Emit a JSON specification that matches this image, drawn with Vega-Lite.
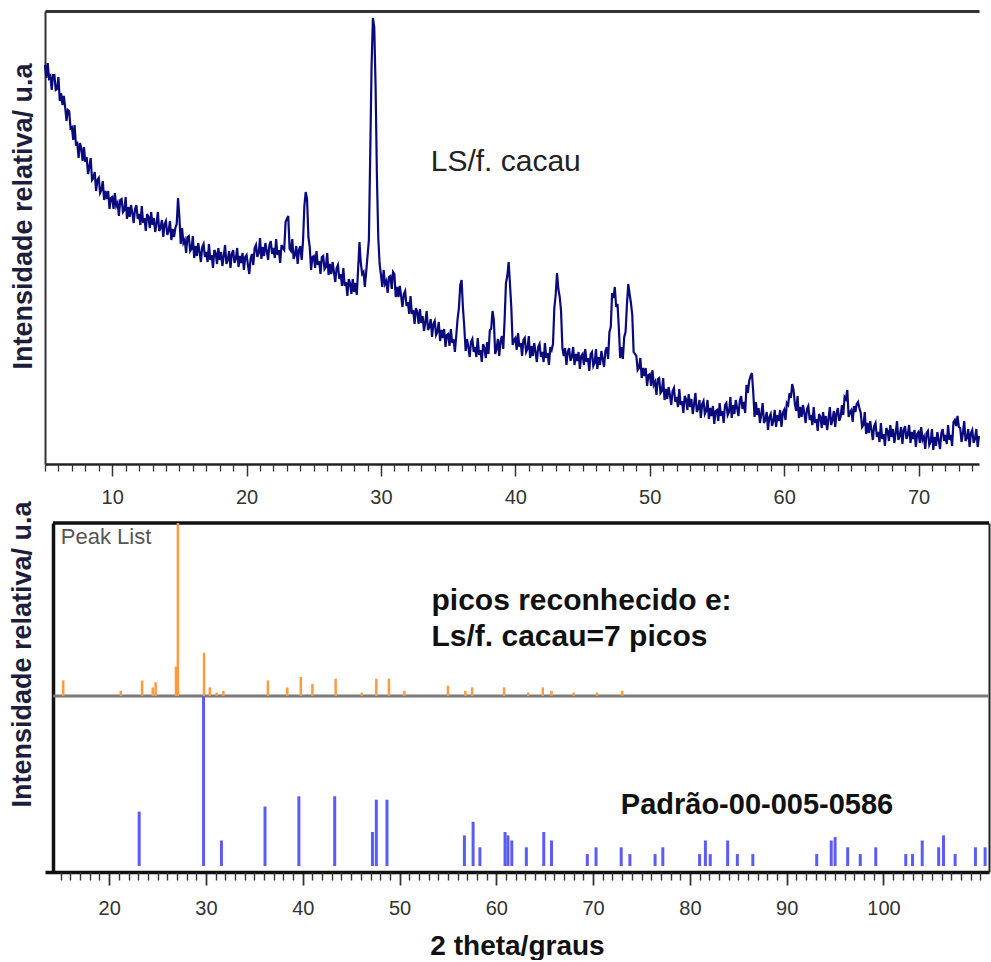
{
  "$schema": "https://vega.github.io/schema/vega-lite/v6.json",
  "autosize": {"type": "pad"},
  "padding": {"left": 7, "top": 11, "right": 0, "bottom": 0},
  "background": "white",
  "spacing": 59,
  "bounds": "flush",
  "config": {"view": {"stroke": null}, "font": "Liberation Sans"},
  "datasets": {
    "trace": [
      {"t":5.0,"i":399},{"t":5.1,"i":386},{"t":5.2,"i":401},{"t":5.3,"i":386},{"t":5.4,"i":388},{"t":5.5,"i":374},{"t":5.6,"i":389},{"t":5.7,"i":389},{"t":5.8,"i":374},{"t":5.9,"i":375},
      {"t":6.0,"i":387},{"t":6.1,"i":363},{"t":6.2,"i":371},{"t":6.3,"i":359},{"t":6.4,"i":368},{"t":6.5,"i":357},{"t":6.6,"i":343},{"t":6.7,"i":354},{"t":6.8,"i":353},{"t":6.9,"i":336},
      {"t":7.0,"i":337},{"t":7.1,"i":324},{"t":7.2,"i":339},{"t":7.3,"i":320},{"t":7.4,"i":321},{"t":7.5,"i":306},{"t":7.6,"i":321},{"t":7.7,"i":316},{"t":7.8,"i":303},{"t":7.9,"i":317},
      {"t":8.0,"i":302},{"t":8.1,"i":307},{"t":8.2,"i":290},{"t":8.3,"i":297},{"t":8.4,"i":306},{"t":8.5,"i":284},{"t":8.6,"i":286},{"t":8.7,"i":292},{"t":8.8,"i":273},{"t":8.9,"i":284},
      {"t":9.0,"i":286},{"t":9.1,"i":271},{"t":9.2,"i":274},{"t":9.3,"i":283},{"t":9.4,"i":264},{"t":9.5,"i":273},{"t":9.6,"i":265},{"t":9.7,"i":273},{"t":9.8,"i":255},{"t":9.9,"i":266},
      {"t":10.0,"i":267},{"t":10.1,"i":255},{"t":10.2,"i":271},{"t":10.3,"i":258},{"t":10.4,"i":261},{"t":10.5,"i":248},{"t":10.6,"i":264},{"t":10.7,"i":265},{"t":10.8,"i":252},{"t":10.9,"i":254},
      {"t":11.0,"i":267},{"t":11.1,"i":245},{"t":11.2,"i":257},{"t":11.3,"i":247},{"t":11.4,"i":259},{"t":11.5,"i":251},{"t":11.6,"i":241},{"t":11.7,"i":255},{"t":11.8,"i":259},{"t":11.9,"i":245},
      {"t":12.0,"i":250},{"t":12.1,"i":239},{"t":12.2,"i":258},{"t":12.3,"i":241},{"t":12.4,"i":246},{"t":12.5,"i":233},{"t":12.6,"i":250},{"t":12.7,"i":247},{"t":12.8,"i":236},{"t":12.9,"i":252},
      {"t":13.0,"i":239},{"t":13.1,"i":246},{"t":13.2,"i":232},{"t":13.3,"i":241},{"t":13.4,"i":252},{"t":13.5,"i":233},{"t":13.6,"i":236},{"t":13.7,"i":244},{"t":13.8,"i":227},{"t":13.9,"i":240},
      {"t":14.0,"i":243},{"t":14.1,"i":229},{"t":14.2,"i":233},{"t":14.3,"i":243},{"t":14.4,"i":224},{"t":14.5,"i":235},{"t":14.6,"i":227},{"t":14.7,"i":236},{"t":14.8,"i":240},{"t":14.9,"i":266},
      {"t":15.0,"i":247},{"t":15.1,"i":220},{"t":15.2,"i":236},{"t":15.3,"i":221},{"t":15.4,"i":224},{"t":15.5,"i":211},{"t":15.6,"i":227},{"t":15.7,"i":228},{"t":15.8,"i":213},{"t":15.9,"i":215},
      {"t":16.0,"i":228},{"t":16.1,"i":206},{"t":16.2,"i":218},{"t":16.3,"i":208},{"t":16.4,"i":221},{"t":16.5,"i":212},{"t":16.6,"i":202},{"t":16.7,"i":217},{"t":16.8,"i":220},{"t":16.9,"i":207},
      {"t":17.0,"i":212},{"t":17.1,"i":202},{"t":17.2,"i":220},{"t":17.3,"i":204},{"t":17.4,"i":209},{"t":17.5,"i":196},{"t":17.6,"i":214},{"t":17.7,"i":211},{"t":17.8,"i":200},{"t":17.9,"i":216},
      {"t":18.0,"i":204},{"t":18.1,"i":212},{"t":18.2,"i":198},{"t":18.3,"i":208},{"t":18.4,"i":219},{"t":18.5,"i":200},{"t":18.6,"i":204},{"t":18.7,"i":213},{"t":18.8,"i":196},{"t":18.9,"i":210},
      {"t":19.0,"i":214},{"t":19.1,"i":201},{"t":19.2,"i":205},{"t":19.3,"i":216},{"t":19.4,"i":197},{"t":19.5,"i":208},{"t":19.6,"i":201},{"t":19.7,"i":211},{"t":19.8,"i":194},{"t":19.9,"i":207},
      {"t":20.0,"i":209},{"t":20.1,"i":199},{"t":20.2,"i":190},{"t":20.3,"i":205},{"t":20.4,"i":210},{"t":20.5,"i":199},{"t":20.6,"i":216},{"t":20.7,"i":219},{"t":20.8,"i":207},{"t":20.9,"i":211},
      {"t":21.0,"i":226},{"t":21.1,"i":205},{"t":21.2,"i":217},{"t":21.3,"i":208},{"t":21.4,"i":221},{"t":21.5,"i":213},{"t":21.6,"i":204},{"t":21.7,"i":219},{"t":21.8,"i":223},{"t":21.9,"i":210},
      {"t":22.0,"i":216},{"t":22.1,"i":206},{"t":22.2,"i":225},{"t":22.3,"i":209},{"t":22.4,"i":214},{"t":22.5,"i":201},{"t":22.6,"i":219},{"t":22.7,"i":216},{"t":22.8,"i":214},{"t":22.9,"i":242},
      {"t":23.0,"i":245},{"t":23.1,"i":248},{"t":23.2,"i":215},{"t":23.3,"i":213},{"t":23.4,"i":225},{"t":23.5,"i":205},{"t":23.6,"i":209},{"t":23.7,"i":218},{"t":23.8,"i":200},{"t":23.9,"i":214},
      {"t":24.0,"i":218},{"t":24.1,"i":204},{"t":24.2,"i":223},{"t":24.3,"i":258},{"t":24.4,"i":272},{"t":24.5,"i":265},{"t":24.6,"i":227},{"t":24.7,"i":217},{"t":24.8,"i":194},{"t":24.9,"i":207},
      {"t":25.0,"i":208},{"t":25.1,"i":196},{"t":25.2,"i":213},{"t":25.3,"i":199},{"t":25.4,"i":203},{"t":25.5,"i":190},{"t":25.6,"i":207},{"t":25.7,"i":208},{"t":25.8,"i":195},{"t":25.9,"i":197},
      {"t":26.0,"i":211},{"t":26.1,"i":189},{"t":26.2,"i":200},{"t":26.3,"i":190},{"t":26.4,"i":202},{"t":26.5,"i":192},{"t":26.6,"i":182},{"t":26.7,"i":196},{"t":26.8,"i":199},{"t":26.9,"i":185},
      {"t":27.0,"i":190},{"t":27.1,"i":178},{"t":27.2,"i":196},{"t":27.3,"i":178},{"t":27.4,"i":182},{"t":27.5,"i":168},{"t":27.6,"i":185},{"t":27.7,"i":181},{"t":27.8,"i":170},{"t":27.9,"i":185},
      {"t":28.0,"i":172},{"t":28.1,"i":181},{"t":28.2,"i":169},{"t":28.3,"i":195},{"t":28.4,"i":222},{"t":28.5,"i":201},{"t":28.6,"i":190},{"t":28.7,"i":192},{"t":28.8,"i":177},{"t":28.9,"i":192},
      {"t":29.0,"i":208},{"t":29.1,"i":224},{"t":29.2,"i":309},{"t":29.3,"i":398},{"t":29.4,"i":446},{"t":29.5,"i":437},{"t":29.6,"i":377},{"t":29.7,"i":286},{"t":29.8,"i":226},{"t":29.9,"i":200},
      {"t":30.0,"i":189},{"t":30.1,"i":177},{"t":30.2,"i":194},{"t":30.3,"i":180},{"t":30.4,"i":183},{"t":30.5,"i":171},{"t":30.6,"i":187},{"t":30.7,"i":188},{"t":30.8,"i":175},{"t":30.9,"i":192},
      {"t":31.0,"i":190},{"t":31.1,"i":167},{"t":31.2,"i":177},{"t":31.3,"i":167},{"t":31.4,"i":178},{"t":31.5,"i":168},{"t":31.6,"i":157},{"t":31.7,"i":170},{"t":31.8,"i":173},{"t":31.9,"i":158},
      {"t":32.0,"i":162},{"t":32.1,"i":150},{"t":32.2,"i":168},{"t":32.3,"i":150},{"t":32.4,"i":154},{"t":32.5,"i":140},{"t":32.6,"i":156},{"t":32.7,"i":152},{"t":32.8,"i":140},{"t":32.9,"i":155},
      {"t":33.0,"i":141},{"t":33.1,"i":148},{"t":33.2,"i":133},{"t":33.3,"i":142},{"t":33.4,"i":153},{"t":33.5,"i":134},{"t":33.6,"i":137},{"t":33.7,"i":145},{"t":33.8,"i":127},{"t":33.9,"i":140},
      {"t":34.0,"i":143},{"t":34.1,"i":129},{"t":34.2,"i":132},{"t":34.3,"i":142},{"t":34.4,"i":123},{"t":34.5,"i":134},{"t":34.6,"i":126},{"t":34.7,"i":135},{"t":34.8,"i":117},{"t":34.9,"i":129},
      {"t":35.0,"i":130},{"t":35.1,"i":118},{"t":35.2,"i":135},{"t":35.3,"i":121},{"t":35.4,"i":125},{"t":35.5,"i":112},{"t":35.6,"i":128},{"t":35.7,"i":145},{"t":35.8,"i":156},{"t":35.9,"i":179},
      {"t":36.0,"i":184},{"t":36.1,"i":156},{"t":36.2,"i":137},{"t":36.3,"i":113},{"t":36.4,"i":125},{"t":36.5,"i":117},{"t":36.6,"i":107},{"t":36.7,"i":122},{"t":36.8,"i":125},{"t":36.9,"i":112},
      {"t":37.0,"i":117},{"t":37.1,"i":107},{"t":37.2,"i":126},{"t":37.3,"i":109},{"t":37.4,"i":114},{"t":37.5,"i":102},{"t":37.6,"i":120},{"t":37.7,"i":116},{"t":37.8,"i":106},{"t":37.9,"i":122},
      {"t":38.0,"i":110},{"t":38.1,"i":134},{"t":38.2,"i":135},{"t":38.3,"i":153},{"t":38.4,"i":144},{"t":38.5,"i":110},{"t":38.6,"i":115},{"t":38.7,"i":125},{"t":38.8,"i":108},{"t":38.9,"i":123},
      {"t":39.0,"i":128},{"t":39.1,"i":115},{"t":39.2,"i":144},{"t":39.3,"i":181},{"t":39.4,"i":188},{"t":39.5,"i":202},{"t":39.6,"i":180},{"t":39.7,"i":156},{"t":39.8,"i":119},{"t":39.9,"i":124},
      {"t":40.0,"i":126},{"t":40.1,"i":114},{"t":40.2,"i":131},{"t":40.3,"i":117},{"t":40.4,"i":121},{"t":40.5,"i":108},{"t":40.6,"i":124},{"t":40.7,"i":126},{"t":40.8,"i":112},{"t":40.9,"i":115},
      {"t":41.0,"i":128},{"t":41.1,"i":106},{"t":41.2,"i":118},{"t":41.3,"i":108},{"t":41.4,"i":121},{"t":41.5,"i":112},{"t":41.6,"i":102},{"t":41.7,"i":117},{"t":41.8,"i":120},{"t":41.9,"i":107},
      {"t":42.0,"i":112},{"t":42.1,"i":102},{"t":42.2,"i":121},{"t":42.3,"i":106},{"t":42.4,"i":111},{"t":42.5,"i":99},{"t":42.6,"i":117},{"t":42.7,"i":114},{"t":42.8,"i":120},{"t":42.9,"i":156},
      {"t":43.0,"i":169},{"t":43.1,"i":191},{"t":43.2,"i":175},{"t":43.3,"i":167},{"t":43.4,"i":153},{"t":43.5,"i":116},{"t":43.6,"i":108},{"t":43.7,"i":116},{"t":43.8,"i":99},{"t":43.9,"i":112},
      {"t":44.0,"i":116},{"t":44.1,"i":103},{"t":44.2,"i":107},{"t":44.3,"i":117},{"t":44.4,"i":99},{"t":44.5,"i":110},{"t":44.6,"i":103},{"t":44.7,"i":112},{"t":44.8,"i":95},{"t":44.9,"i":108},
      {"t":45.0,"i":110},{"t":45.1,"i":99},{"t":45.2,"i":115},{"t":45.3,"i":102},{"t":45.4,"i":106},{"t":45.5,"i":93},{"t":45.6,"i":110},{"t":45.7,"i":112},{"t":45.8,"i":98},{"t":45.9,"i":101},
      {"t":46.0,"i":115},{"t":46.1,"i":95},{"t":46.2,"i":107},{"t":46.3,"i":99},{"t":46.4,"i":113},{"t":46.5,"i":105},{"t":46.6,"i":97},{"t":46.7,"i":113},{"t":46.8,"i":117},{"t":46.9,"i":105},
      {"t":47.0,"i":132},{"t":47.1,"i":137},{"t":47.2,"i":171},{"t":47.3,"i":166},{"t":47.4,"i":177},{"t":47.5,"i":157},{"t":47.6,"i":160},{"t":47.7,"i":136},{"t":47.8,"i":106},{"t":47.9,"i":117},
      {"t":48.0,"i":105},{"t":48.1,"i":127},{"t":48.2,"i":132},{"t":48.3,"i":159},{"t":48.4,"i":180},{"t":48.5,"i":170},{"t":48.6,"i":161},{"t":48.7,"i":149},{"t":48.8,"i":112},{"t":48.9,"i":110},
      {"t":49.0,"i":108},{"t":49.1,"i":94},{"t":49.2,"i":96},{"t":49.3,"i":106},{"t":49.4,"i":86},{"t":49.5,"i":96},{"t":49.6,"i":88},{"t":49.7,"i":96},{"t":49.8,"i":78},{"t":49.9,"i":89},
      {"t":50.0,"i":90},{"t":50.1,"i":78},{"t":50.2,"i":94},{"t":50.3,"i":79},{"t":50.4,"i":82},{"t":50.5,"i":69},{"t":50.6,"i":85},{"t":50.7,"i":86},{"t":50.8,"i":71},{"t":50.9,"i":73},
      {"t":51.0,"i":86},{"t":51.1,"i":64},{"t":51.2,"i":75},{"t":51.3,"i":65},{"t":51.4,"i":77},{"t":51.5,"i":69},{"t":51.6,"i":59},{"t":51.7,"i":73},{"t":51.8,"i":76},{"t":51.9,"i":62},
      {"t":52.0,"i":67},{"t":52.1,"i":57},{"t":52.2,"i":75},{"t":52.3,"i":59},{"t":52.4,"i":63},{"t":52.5,"i":51},{"t":52.6,"i":68},{"t":52.7,"i":65},{"t":52.8,"i":54},{"t":52.9,"i":70},
      {"t":53.0,"i":57},{"t":53.1,"i":65},{"t":53.2,"i":50},{"t":53.3,"i":60},{"t":53.4,"i":71},{"t":53.5,"i":52},{"t":53.6,"i":55},{"t":53.7,"i":64},{"t":53.8,"i":46},{"t":53.9,"i":60},
      {"t":54.0,"i":63},{"t":54.1,"i":50},{"t":54.2,"i":53},{"t":54.3,"i":64},{"t":54.4,"i":45},{"t":54.5,"i":56},{"t":54.6,"i":48},{"t":54.7,"i":58},{"t":54.8,"i":40},{"t":54.9,"i":53},
      {"t":55.0,"i":54},{"t":55.1,"i":43},{"t":55.2,"i":61},{"t":55.3,"i":48},{"t":55.4,"i":53},{"t":55.5,"i":41},{"t":55.6,"i":59},{"t":55.7,"i":61},{"t":55.8,"i":49},{"t":55.9,"i":52},
      {"t":56.0,"i":67},{"t":56.1,"i":46},{"t":56.2,"i":59},{"t":56.3,"i":50},{"t":56.4,"i":64},{"t":56.5,"i":56},{"t":56.6,"i":48},{"t":56.7,"i":63},{"t":56.8,"i":68},{"t":56.9,"i":55},
      {"t":57.0,"i":62},{"t":57.1,"i":51},{"t":57.2,"i":79},{"t":57.3,"i":71},{"t":57.4,"i":83},{"t":57.5,"i":88},{"t":57.6,"i":91},{"t":57.7,"i":72},{"t":57.8,"i":47},{"t":57.9,"i":62},
      {"t":58.0,"i":49},{"t":58.1,"i":56},{"t":58.2,"i":41},{"t":58.3,"i":50},{"t":58.4,"i":61},{"t":58.5,"i":41},{"t":58.6,"i":44},{"t":58.7,"i":52},{"t":58.8,"i":34},{"t":58.9,"i":47},
      {"t":59.0,"i":50},{"t":59.1,"i":38},{"t":59.2,"i":43},{"t":59.3,"i":54},{"t":59.4,"i":37},{"t":59.5,"i":49},{"t":59.6,"i":43},{"t":59.7,"i":54},{"t":59.8,"i":37},{"t":59.9,"i":51},
      {"t":60.0,"i":54},{"t":60.1,"i":44},{"t":60.2,"i":61},{"t":60.3,"i":59},{"t":60.4,"i":71},{"t":60.5,"i":66},{"t":60.6,"i":80},{"t":60.7,"i":74},{"t":60.8,"i":60},{"t":60.9,"i":53},
      {"t":61.0,"i":68},{"t":61.1,"i":46},{"t":61.2,"i":57},{"t":61.3,"i":47},{"t":61.4,"i":59},{"t":61.5,"i":51},{"t":61.6,"i":41},{"t":61.7,"i":55},{"t":61.8,"i":58},{"t":61.9,"i":44},
      {"t":62.0,"i":49},{"t":62.1,"i":39},{"t":62.2,"i":57},{"t":62.3,"i":41},{"t":62.4,"i":45},{"t":62.5,"i":33},{"t":62.6,"i":50},{"t":62.7,"i":47},{"t":62.8,"i":36},{"t":62.9,"i":52},
      {"t":63.0,"i":39},{"t":63.1,"i":48},{"t":63.2,"i":34},{"t":63.3,"i":45},{"t":63.4,"i":57},{"t":63.5,"i":39},{"t":63.6,"i":44},{"t":63.7,"i":53},{"t":63.8,"i":37},{"t":63.9,"i":51},
      {"t":64.0,"i":56},{"t":64.1,"i":43},{"t":64.2,"i":47},{"t":64.3,"i":59},{"t":64.4,"i":49},{"t":64.5,"i":67},{"t":64.6,"i":65},{"t":64.7,"i":74},{"t":64.8,"i":47},{"t":64.9,"i":52},
      {"t":65.0,"i":54},{"t":65.1,"i":42},{"t":65.2,"i":58},{"t":65.3,"i":52},{"t":65.4,"i":60},{"t":65.5,"i":62},{"t":65.6,"i":56},{"t":65.7,"i":51},{"t":65.8,"i":37},{"t":65.9,"i":39},
      {"t":66.0,"i":52},{"t":66.1,"i":30},{"t":66.2,"i":41},{"t":66.3,"i":31},{"t":66.4,"i":43},{"t":66.5,"i":34},{"t":66.6,"i":24},{"t":66.7,"i":38},{"t":66.8,"i":41},{"t":66.9,"i":27},
      {"t":67.0,"i":32},{"t":67.1,"i":22},{"t":67.2,"i":41},{"t":67.3,"i":25},{"t":67.4,"i":30},{"t":67.5,"i":18},{"t":67.6,"i":36},{"t":67.7,"i":33},{"t":67.8,"i":23},{"t":67.9,"i":39},
      {"t":68.0,"i":27},{"t":68.1,"i":35},{"t":68.2,"i":21},{"t":68.3,"i":31},{"t":68.4,"i":43},{"t":68.5,"i":24},{"t":68.6,"i":28},{"t":68.7,"i":37},{"t":68.8,"i":20},{"t":68.9,"i":34},
      {"t":69.0,"i":38},{"t":69.1,"i":25},{"t":69.2,"i":29},{"t":69.3,"i":39},{"t":69.4,"i":21},{"t":69.5,"i":32},{"t":69.6,"i":25},{"t":69.7,"i":34},{"t":69.8,"i":17},{"t":69.9,"i":30},
      {"t":70.0,"i":32},{"t":70.1,"i":21},{"t":70.2,"i":37},{"t":70.3,"i":24},{"t":70.4,"i":27},{"t":70.5,"i":15},{"t":70.6,"i":31},{"t":70.7,"i":33},{"t":70.8,"i":19},{"t":70.9,"i":22},
      {"t":71.0,"i":35},{"t":71.1,"i":14},{"t":71.2,"i":27},{"t":71.3,"i":18},{"t":71.4,"i":32},{"t":71.5,"i":24},{"t":71.6,"i":15},{"t":71.7,"i":31},{"t":71.8,"i":35},{"t":71.9,"i":23},
      {"t":72.0,"i":29},{"t":72.1,"i":20},{"t":72.2,"i":39},{"t":72.3,"i":24},{"t":72.4,"i":29},{"t":72.5,"i":18},{"t":72.6,"i":42},{"t":72.7,"i":44},{"t":72.8,"i":38},{"t":72.9,"i":48},
      {"t":73.0,"i":37},{"t":73.1,"i":36},{"t":73.2,"i":22},{"t":73.3,"i":31},{"t":73.4,"i":43},{"t":73.5,"i":23},{"t":73.6,"i":26},{"t":73.7,"i":35},{"t":73.8,"i":17},{"t":73.9,"i":31},
      {"t":74.0,"i":34},{"t":74.1,"i":21},{"t":74.2,"i":25},{"t":74.3,"i":35},{"t":74.4,"i":17},{"t":74.5,"i":28}
    ],
    "orange": [
      {"t":15.25,"h":9},{"t":21.2,"h":3},{"t":23.4,"h":9},{"t":24.5,"h":5},{"t":24.8,"h":8},{"t":26.9,"h":17},{"t":27.1,"h":100},{"t":29.8,"h":25},{"t":30.4,"h":5},{"t":31.1,"h":2},
      {"t":31.8,"h":3},{"t":36.4,"h":9},{"t":38.4,"h":5},{"t":39.8,"h":11},{"t":41.0,"h":7},{"t":43.4,"h":10},{"t":46.1,"h":2},{"t":47.6,"h":10},{"t":48.9,"h":10},{"t":50.5,"h":3},
      {"t":55.0,"h":6},{"t":56.8,"h":3},{"t":57.5,"h":5},{"t":60.8,"h":5},{"t":63.3,"h":2},{"t":64.8,"h":5},{"t":65.7,"h":3},{"t":68.0,"h":2},{"t":70.4,"h":2},{"t":73.0,"h":3}
    ],
    "blue": [
      {"t":23.1,"h":32},{"t":29.75,"h":100},{"t":31.6,"h":15},{"t":36.1,"h":35},{"t":39.6,"h":41},{"t":43.3,"h":41},{"t":47.2,"h":20},{"t":47.6,"h":39},{"t":48.7,"h":39},
      {"t":56.7,"h":18},{"t":57.6,"h":26},{"t":58.3,"h":11},{"t":60.9,"h":20},{"t":61.2,"h":18},{"t":61.6,"h":15},{"t":63.1,"h":11},{"t":64.9,"h":20},{"t":65.7,"h":15},
      {"t":69.4,"h":7},{"t":70.3,"h":11},{"t":72.9,"h":11},{"t":73.8,"h":7},{"t":76.4,"h":7},{"t":77.2,"h":11},{"t":81.0,"h":7},{"t":81.6,"h":15},{"t":82.1,"h":7},
      {"t":83.9,"h":15},{"t":84.9,"h":7},{"t":86.5,"h":7},{"t":93.1,"h":7},{"t":94.6,"h":15},{"t":95.0,"h":17},{"t":96.3,"h":11},{"t":97.6,"h":7},{"t":99.2,"h":11},
      {"t":102.3,"h":7},{"t":103.0,"h":7},{"t":104.0,"h":15},{"t":105.7,"h":11},{"t":106.2,"h":18},{"t":107.4,"h":7},{"t":109.5,"h":11},{"t":110.5,"h":11}
    ]
  },
  "vconcat": [
    {
      "width": 934,
      "height": 453,
      "layer": [
        {
          "data": {"name": "trace"},
          "mark": {"type": "line", "color": "#0a0a7c", "strokeWidth": 2.2, "strokeJoin": "miter"},
          "encoding": {
            "x": {"field": "t", "type": "quantitative", "scale": {"domain": [5, 74.5], "nice": false, "zero": false},
              "axis": {"orient": "bottom", "values": [10,20,30,40,50,60,70], "tickSize": 12, "tickWidth": 1.5, "tickColor": "#333", "domainWidth": 2.5, "domainColor": "#222", "labelFontSize": 20, "labelColor": "#333", "labelPadding": 11, "labelFont": "Liberation Sans", "title": null, "grid": false}},
            "y": {"field": "i", "type": "quantitative", "scale": {"domain": [0, 453], "nice": false, "zero": false},
              "axis": {"orient": "left", "ticks": false, "labels": false, "domainWidth": 2, "domainColor": "#333", "grid": false, "title": "Intensidade relativa/ u.a", "titleFontSize": 27, "titleFontWeight": "bold", "titleColor": "#1e1e3c", "titleFont": "Liberation Sans", "titlePadding": 8, "titleY": 205}}
          }
        },
        {
          "data": {"values": [{}]},
          "mark": {"type": "text", "text": "LS/f. cacau", "align": "left", "baseline": "alphabetic", "fontSize": 30, "font": "Liberation Sans", "color": "#222"},
          "encoding": {
            "x": {"datum": 33.7, "type": "quantitative",
              "axis": {"orient": "bottom", "values": [5,6,7,8,9,11,12,13,14,15,16,17,18,19,21,22,23,24,25,26,27,28,29,31,32,33,34,35,36,37,38,39,41,42,43,44,45,46,47,48,49,51,52,53,54,55,56,57,58,59,61,62,63,64,65,66,67,68,69,71,72,73,74], "tickSize": 7, "tickWidth": 1.3, "tickColor": "#333", "labels": false, "domain": false, "grid": false, "title": null}},
            "y": {"datum": 293, "type": "quantitative", "axis": null}
          }
        },
        {
          "data": {"values": [{}]},
          "mark": {"type": "text", "text": ""},
          "encoding": {
            "x": {"datum": 5, "type": "quantitative", "axis": {"orient": "top", "ticks": false, "labels": false, "domainWidth": 3, "domainColor": "#333", "grid": false, "title": null}},
            "y": {"datum": 0, "type": "quantitative", "axis": null}
          }
        }
      ],
      "resolve": {"axis": {"x": "independent", "y": "independent"}}
    },
    {
      "width": 944,
      "height": 349,
      "layer": [
        {
          "data": {"values": [{}]},
          "mark": {"type": "rule", "color": "#7a7a7a", "strokeWidth": 3},
          "encoding": {
            "x": {"datum": 14.2, "type": "quantitative", "axis": null},
            "x2": {"datum": 110.9},
            "y": {"datum": 0, "type": "quantitative", "scale": {"domain": [-101.7, 100], "nice": false, "zero": false},
              "axis": {"orient": "right", "ticks": false, "labels": false, "domainWidth": 2, "domainColor": "#222", "grid": false, "title": null}}
          }
        },
        {
          "data": {"values": [{}]},
          "mark": {"type": "rule", "color": "#111", "strokeWidth": 3.5},
          "encoding": {
            "x": {"datum": 14.2, "type": "quantitative", "axis": null},
            "x2": {"datum": 110.9},
            "y": {"datum": 100, "type": "quantitative", "scale": {"domain": [-101.7, 100], "nice": false, "zero": false}, "axis": null}
          }
        },
        {
          "data": {"name": "orange"},
          "mark": {"type": "rule", "color": "#ff9a40", "strokeWidth": 2.5},
          "encoding": {
            "x": {"field": "t", "type": "quantitative", "scale": {"domain": [13.37, 110.9], "nice": false, "zero": false},
              "axis": {"orient": "bottom", "values": [20,30,40,50,60,70,80,90,100], "tickSize": 13, "tickWidth": 1.8, "tickColor": "#333", "domainWidth": 3.5, "domainColor": "#111", "labelFontSize": 20, "labelColor": "#333", "labelPadding": 13, "labelFont": "Liberation Sans", "grid": false,
                "title": "2 theta/graus", "titleFontSize": 28, "titleFontWeight": "bold", "titleColor": "#111", "titleFont": "Liberation Sans", "titlePadding": 14}},
            "y": {"field": "h", "type": "quantitative", "scale": {"domain": [-101.7, 100], "nice": false, "zero": false},
              "axis": {"orient": "left", "offset": -8, "ticks": false, "labels": false, "domainWidth": 3.5, "domainColor": "#111", "grid": false, "title": "Intensidade relativa/ u.a", "titleFontSize": 27, "titleFontWeight": "bold", "titleColor": "#1e1e3c", "titleFont": "Liberation Sans", "titlePadding": 17, "titleY": 131}},
            "y2": {"datum": 0}
          }
        },
        {
          "data": {"name": "blue"},
          "mark": {"type": "rule", "color": "#5b5bf5", "strokeWidth": 3},
          "encoding": {
            "x": {"field": "t", "type": "quantitative",
              "axis": {"orient": "bottom", "values": [15,16,17,18,19,21,22,23,24,25,26,27,28,29,31,32,33,34,35,36,37,38,39,41,42,43,44,45,46,47,48,49,51,52,53,54,55,56,57,58,59,61,62,63,64,65,66,67,68,69,71,72,73,74,75,76,77,78,79,81,82,83,84,85,86,87,88,89,91,92,93,94,95,96,97,98,99,101,102,103,104,105,106,107,108,109,110], "tickSize": 8, "tickWidth": 1.4, "tickColor": "#333", "labels": false, "domain": false, "grid": false, "title": null}},
            "y": {"field": "h", "type": "quantitative", "scale": {"domain": [-3.53, 201.8], "nice": false, "zero": false}, "axis": null},
            "y2": {"datum": 0}
          }
        },
        {
          "data": {"values": [{}]},
          "mark": {"type": "text", "text": "Peak List", "align": "left", "baseline": "alphabetic", "fontSize": 22, "font": "Liberation Sans", "color": "#555"},
          "encoding": {
            "x": {"datum": 15.0, "type": "quantitative", "axis": null},
            "y": {"datum": 88, "type": "quantitative", "scale": {"domain": [-101.7, 100], "nice": false, "zero": false}, "axis": null}
          }
        },
        {
          "data": {"values": [{}]},
          "mark": {"type": "text", "text": "picos reconhecido e:", "align": "left", "baseline": "alphabetic", "fontSize": 30, "fontWeight": "bold", "font": "Liberation Sans", "color": "#111"},
          "encoding": {
            "x": {"datum": 53.3, "type": "quantitative", "axis": null},
            "y": {"datum": 49.5, "type": "quantitative", "scale": {"domain": [-101.7, 100], "nice": false, "zero": false}, "axis": null}
          }
        },
        {
          "data": {"values": [{}]},
          "mark": {"type": "text", "text": "Ls/f. cacau=7 picos", "align": "left", "baseline": "alphabetic", "fontSize": 30, "fontWeight": "bold", "font": "Liberation Sans", "color": "#111"},
          "encoding": {
            "x": {"datum": 53.3, "type": "quantitative", "axis": null},
            "y": {"datum": 29, "type": "quantitative", "scale": {"domain": [-101.7, 100], "nice": false, "zero": false}, "axis": null}
          }
        },
        {
          "data": {"values": [{}]},
          "mark": {"type": "text", "text": "Padrão-00-005-0586", "align": "left", "baseline": "alphabetic", "fontSize": 29, "fontWeight": "bold", "font": "Liberation Sans", "color": "#111"},
          "encoding": {
            "x": {"datum": 72.86, "type": "quantitative", "axis": null},
            "y": {"datum": 30.6, "type": "quantitative", "scale": {"domain": [-3.53, 201.8], "nice": false, "zero": false}, "axis": null}
          }
        }
      ],
      "resolve": {"scale": {"y": "independent"}, "axis": {"x": "independent", "y": "independent"}}
    }
  ]
}
